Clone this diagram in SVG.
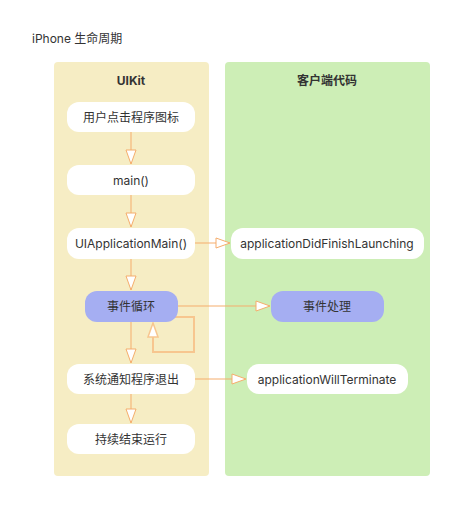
<svg xmlns="http://www.w3.org/2000/svg" width="471" height="531" viewBox="0 0 471 531">
<style>
text{font-family:Inter,"Noto Sans CJK SC",sans-serif;font-size:12px;fill:#333;text-anchor:middle;dominant-baseline:central}
.title{text-anchor:start}
.lt{font-weight:bold}
.n{fill:#fff}
.p{fill:#a5aef2}
.c{fill:none;stroke:#f5ad6c;stroke-width:1}
.loop{fill:none;stroke:#f7c68f;stroke-width:2}
</style>
<defs>
<marker id="ah" viewBox="0 0 16 12" refX="15" refY="6" markerWidth="16" markerHeight="12" markerUnits="userSpaceOnUse" orient="auto">
<path d="M1,1 L15,6 L1,11 Z" fill="#fff" stroke="#f5ad6c" stroke-width="1"/>
</marker>
<marker id="ah2" viewBox="0 0 16 12" refX="15" refY="6" markerWidth="16" markerHeight="12" markerUnits="userSpaceOnUse" orient="auto">
<path d="M1,1 L15,6 L1,11 Z" fill="#fff" stroke="#f7c68f" stroke-width="1.5"/>
</marker>
</defs>
<rect width="471" height="531" fill="#fff"/>
<text class="title" x="32" y="38">iPhone 生命周期</text>
<g id="lane-uikit">
<rect x="54" y="62" width="155" height="414" rx="4" fill="#f6edc4"/>
<text class="lt" x="131" y="80">UIKit</text>
</g>
<g id="lane-client">
<rect x="225" y="62" width="205" height="414" rx="4" fill="#cdeeb6"/>
<text class="lt" x="327" y="80">客户端代码</text>
</g>
<g id="connectors">
<path class="c" d="M131,132 V164" marker-end="url(#ah)"/>
<path class="c" d="M131,195 V227" marker-end="url(#ah)"/>
<path class="c" d="M131,259 V290" marker-end="url(#ah)"/>
<path class="c" d="M195,243 H230" marker-end="url(#ah)"/>
<path class="c" d="M178,306 H270" marker-end="url(#ah)"/>
<path class="loop" d="M173,317 H194 V352 H153 V323" marker-end="url(#ah2)"/>
<path class="c" d="M131,322 V363" marker-end="url(#ah)"/>
<path class="c" d="M195,379 H246" marker-end="url(#ah)"/>
<path class="c" d="M131,394 V423" marker-end="url(#ah)"/>
</g>
<g id="n1"><rect class="n" x="67" y="102" width="128" height="30" rx="12"/><text x="131" y="117">用户点击程序图标</text></g>
<g id="n2"><rect class="n" x="67" y="165" width="128" height="30" rx="12"/><text x="131" y="180">main()</text></g>
<g id="n3"><rect class="n" x="67" y="228" width="128" height="31" rx="12"/><text x="131" y="243">UIApplicationMain()</text></g>
<g id="n4"><rect class="p" x="85" y="291" width="93" height="31" rx="12"/><text x="131" y="306">事件循环</text></g>
<g id="n5"><rect class="n" x="67" y="364" width="128" height="30" rx="12"/><text x="131" y="379">系统通知程序退出</text></g>
<g id="n6"><rect class="n" x="67" y="424" width="128" height="30" rx="12"/><text x="131" y="439">持续结束运行</text></g>
<g id="c1"><rect class="n" x="231" y="228" width="193" height="31" rx="12"/><text x="327" y="243">applicationDidFinishLaunching</text></g>
<g id="c2"><rect class="p" x="271" y="291" width="113" height="31" rx="12"/><text x="327" y="306">事件处理</text></g>
<g id="c3"><rect class="n" x="247" y="364" width="161" height="30" rx="12"/><text x="327" y="379">applicationWillTerminate</text></g>
</svg>
